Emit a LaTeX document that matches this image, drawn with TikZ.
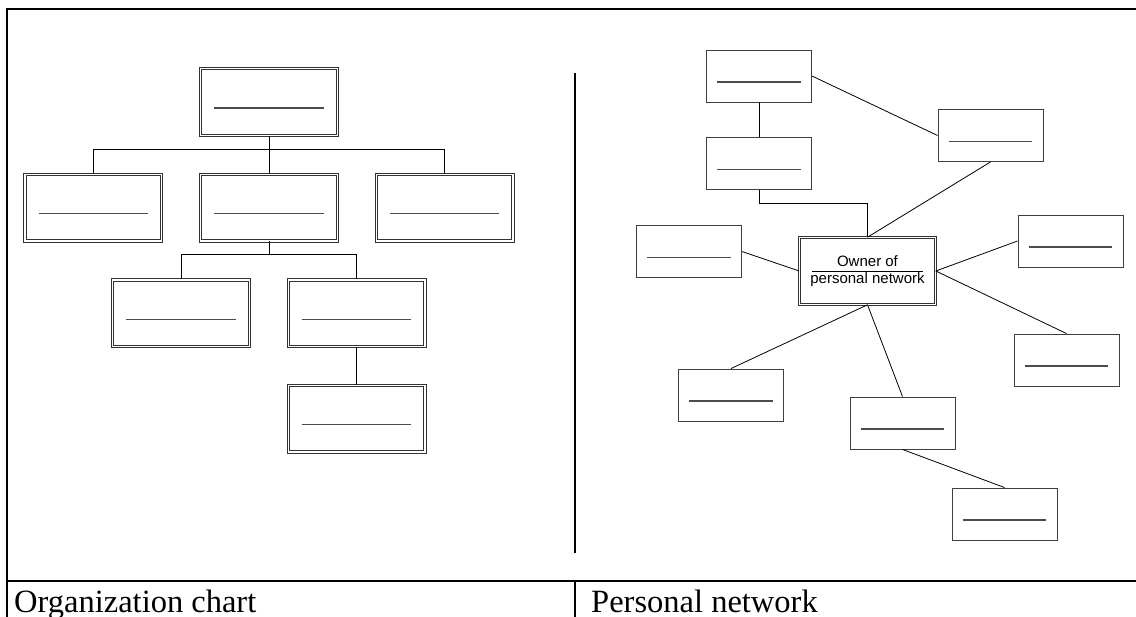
\documentclass[tikz,border=0pt]{standalone}
\usepackage{fontspec}
\setmainfont{Liberation Serif}
\newfontfamily\boxfont{Liberation Sans}
\usetikzlibrary{positioning}
\tikzset{
  % boxes of the organization chart
  orgbox/.style={
    draw=black!80, double, line width=1pt, double distance=1.4pt,
    minimum width=136.6pt, minimum height=66.6pt, inner sep=0pt
  },
  % boxes of the personal network
  netbox/.style={
    draw=black!75, line width=0.9pt,
    minimum width=105pt, minimum height=52pt, inner sep=0pt
  },
  ownerbox/.style={
    draw=black!80, double, line width=1pt, double distance=1.4pt,
    minimum width=135.6pt, minimum height=66.6pt, inner sep=0pt
  },
  ownertext/.style={anchor=base, inner sep=0pt,
    font=\boxfont\fontsize{15}{17}\selectfont},
  % line across an empty box
  blankrule/.style={draw=black!70, line width=1.3pt},
  link/.style={draw=black, line width=0.8pt},
  frameline/.style={line width=2pt},
  caption/.style={anchor=base west, inner sep=0pt,
    font=\fontsize{32.5}{36}\selectfont},
}

\begin{document}
\begin{tikzpicture}[x=1pt, y=-1pt, node distance=38pt]
  \useasboundingbox (0,0) rectangle (1136,617);

  %% -- Frame --
  \draw[frameline] (7,617) -- (7,9) -- (1136,9);
  \draw[frameline] (7,581) -- (1136,581);
  \draw[line width=1.5pt] (575,581) -- (575,617);
  \draw[line width=2pt] (575,73) -- (575,553);

  %% -- Organization chart --
  \node[orgbox] (boss) at (269,102) {};
  \node[orgbox, below=of boss]    (deptB) {};
  \node[orgbox, left=of deptB]    (deptA) {};
  \node[orgbox, right=of deptB]   (deptC) {};
  \node[orgbox, below=of deptB, xshift=87.5pt] (teamB) {};
  \node[orgbox, left=of teamB]    (teamA) {};
  \node[orgbox, below=of teamB]   (unitB) {};

  \foreach \n in {boss,deptA,deptB,deptC,teamA,teamB,unitB}
    \draw[blankrule] ([xshift=14pt,yshift=-6pt]\n.west) -- ([xshift=-14pt,yshift=-6pt]\n.east);

  \draw[link] (boss.south) -- (deptB.north);
  \draw[link] (boss.south) -- ++(0,14) -| (deptA.north);
  \draw[link] (boss.south) -- ++(0,14) -| (deptC.north);
  \draw[link] (deptB.south) -- ++(0,13) -| (teamA.north);
  \draw[link] (deptB.south) -- ++(0,13) -| (teamB.north);
  \draw[link] (teamB.south) -- (unitB.north);

  %% -- Personal network --
  \node[ownerbox] (owner) at (867.5,271) {};
  \node[ownertext] (ownerName) at ([yshift=4pt]owner.center) {Owner of};
  \node[ownertext] (ownerNet) at ([yshift=-13pt]owner.center) {personal network};
  \draw[link] ([xshift=13pt]owner.west) -- ([xshift=-13pt]owner.east);

  \node[netbox] (netA) at (759,76)    {};
  \node[netbox] (netB) at (759,163.5) {};
  \node[netbox] (netC) at (689,251.5) {};
  \node[netbox] (netD) at (990.5,135.5) {};
  \node[netbox] (netE) at (1070.5,241) {};
  \node[netbox] (netF) at (1066.5,360) {};
  \node[netbox] (netG) at (902.5,423) {};
  \node[netbox] (netH) at (1004.5,514) {};
  \node[netbox] (netI) at (731,395)   {};

  \foreach \n in {netA,netB,netC,netD,netE,netF,netG,netH,netI}
    \draw[blankrule] ([xshift=11pt,yshift=-6pt]\n.west) -- ([xshift=-11pt,yshift=-6pt]\n.east);

  \draw[link] (netA.south) -- (netB.north);
  \draw[link] (netA.east) -- (netD.west);
  \draw[link] (netB.south) -- ++(0,13) -| (owner.north);
  \draw[link] (owner.north) -- (netD.south);
  \draw[link] (netC.east) -- (owner.west);
  \draw[link] (owner.east) -- (netE.west);
  \draw[link] (owner.east) -- (netF.north);
  \draw[link] (owner.south) -- (netG.north);
  \draw[link] (owner.south) -- (netI.north);
  \draw[link] (netG.south) -- (netH.north);

  %% -- Captions --
  \node[caption] (orgcap) at (14,612) {Organization chart};
  \node[caption] (netcap) at (591,612) {Personal network};
\end{tikzpicture}
\end{document}
